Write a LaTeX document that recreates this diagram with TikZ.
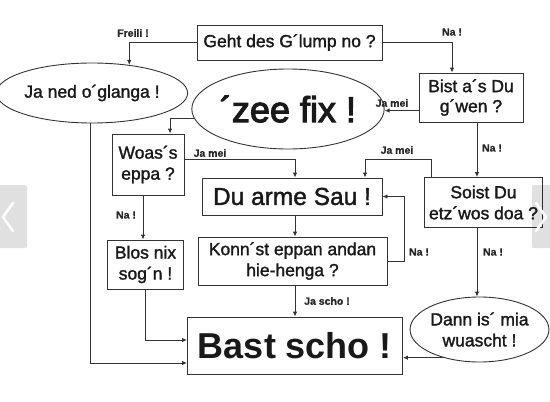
\documentclass[tikz,border=0pt]{standalone}
\usepackage{fontspec}
\setmainfont{Liberation Sans}
\newfontfamily\medfont[FakeBold=1.6]{Liberation Sans}
\newfontfamily\heavyfont[FakeBold=3]{Liberation Sans}
\newfontfamily\labfont[FakeBold=0.8]{Liberation Sans Bold}
\usetikzlibrary{arrows.meta,shapes.geometric}
\begin{document}
\begin{tikzpicture}[x=1pt,y=-1pt,
  ln/.style={line width=0.9pt,draw=black!80},
  arr/.style={ln,-{Latex[length=5pt,width=4.5pt]}},
  boxn/.style={ln,rectangle,inner sep=0pt,align=center,text=black!90,font=\medfont\fontsize{17.5}{19}\selectfont},
  ell/.style={ln,ellipse,inner sep=0pt,align=center,text=black!90,font=\medfont\fontsize{17.5}{19}\selectfont},
  lab/.style={font=\labfont\fontsize{10.5}{12}\selectfont,text=black!85,inner sep=0pt},
  navbox/.style={fill=black,fill opacity=0.12,draw=none,rounded corners=2pt}
]
\useasboundingbox (0,0) rectangle (550,402);
% nodes
\node[boxn,minimum width=185pt,minimum height=35pt] (geht) at (289.5,42.5) {Geht des G´lump no ?};
\node[ell,minimum width=160pt,minimum height=60pt] (janed) at (92,93) {Ja ned o´glanga !};
\node[ell,minimum width=155pt,minimum height=80pt,font=\heavyfont\fontsize{36}{38}\selectfont] (zee) at (288,109) {´zee fix !};
\node[boxn,minimum width=104pt,minimum height=49pt,font=\medfont\fontsize{17.5}{20}\selectfont] (bist) at (471,97.5) {Bist a´s Du\\g´wen ?};
\node[boxn,minimum width=72pt,minimum height=61pt,font=\medfont\fontsize{17.5}{21}\selectfont] (woas) at (148,164.5) {Woas´s\\eppa ?};
\node[boxn,minimum width=180pt,minimum height=37pt,font=\medfont\fontsize{24.5}{26}\selectfont] (arme) at (292,196.5) {Du arme Sau !};
\node[boxn,minimum width=118pt,minimum height=50pt,font=\medfont\fontsize{17.5}{21}\selectfont] (soist) at (483.5,202.5) {Soist Du\\etz´wos doa ?};
\node[boxn,minimum width=189pt,minimum height=48pt,font=\medfont\fontsize{17.5}{21}\selectfont] (konn) at (292.5,261) {Konn´st eppan andan\\hie-henga ?};
\node[boxn,minimum width=76pt,minimum height=49pt,font=\medfont\fontsize{17.5}{21}\selectfont] (blos) at (145.5,264.5) {Blos nix\\sog´n !};
\node[boxn,minimum width=215pt,minimum height=57pt,font=\bfseries\fontsize{36}{38}\selectfont] (bast) at (295,345.5) {Bast scho !};
\node[ell,minimum width=131pt,minimum height=65pt,font=\medfont\fontsize{17.5}{21}\selectfont] (dann) at (479.5,329.5) {Dann is´ mia\\wuascht !};
% connectors
\draw[arr] (geht.west) -| (janed.37);
\draw[arr] (geht.east) -| ([xshift=-19pt]bist.north);
\draw[arr] ([yshift=-13pt]bist.west) -- ([yshift=-13pt]bist.west -| zee.east);
\draw[arr] (zee.186) -| ([xshift=22pt]woas.north);
\draw[arr] ([yshift=5pt]woas.east) -| ([xshift=3pt]arme.north);
\draw[arr] ([xshift=-52.5pt]soist.north) -- ++(0,-18) -| ([xshift=73pt]arme.north);
\draw[arr] ([xshift=6pt]bist.south) -- ([xshift=6pt]bist.south |- soist.north);
\draw[arr] ([xshift=3pt]arme.south) -- ([xshift=3pt]arme.south |- konn.north);
\draw[arr] (konn.east) -- ++(17,0) |- (arme.east);
\draw[arr] ([xshift=2.5pt]konn.south) -- ([xshift=2.5pt]konn.south |- bast.north);
\draw[arr] ([xshift=-6.5pt]soist.south) -- ([xshift=-6.5pt]soist.south |- dann.north);
\draw[arr] (dann.218) -- (dann.218 -| bast.east);
\draw[arr] ([xshift=-5pt]woas.south) -- ([xshift=-5pt]woas.south |- blos.north);
\draw[arr] (blos.south) |- ([yshift=5.5pt]bast.west);
\draw[arr] ([xshift=-2pt]janed.south) |- ([yshift=-17.5pt]bast.west);
% labels
\node[lab] (l1) at (133,33) {Freili !};
\node[lab] (l2) at (452,32) {Na !};
\node[lab] (l3) at (392,103) {Ja mei};
\node[lab] (l4) at (210,153) {Ja mei};
\node[lab] (l5) at (397,150) {Ja mei};
\node[lab] (l6) at (492,148) {Na !};
\node[lab] (l7) at (419,252) {Na !};
\node[lab] (l8) at (493,252) {Na !};
\node[lab] (l9) at (126,215) {Na !};
\node[lab] (l10) at (327,301) {Ja scho !};
% carousel overlays
\fill[navbox] (-3,185) rectangle (27,248);
\draw[white,line width=2.5pt,line cap=round,line join=round] (13,203) -- (3,217) -- (13,231);
\fill[navbox] (532,185) rectangle (553,248);
\draw[white,line width=2.5pt,line cap=round,line join=round] (536,203) -- (546,217) -- (536,231);
\end{tikzpicture}
\end{document}
